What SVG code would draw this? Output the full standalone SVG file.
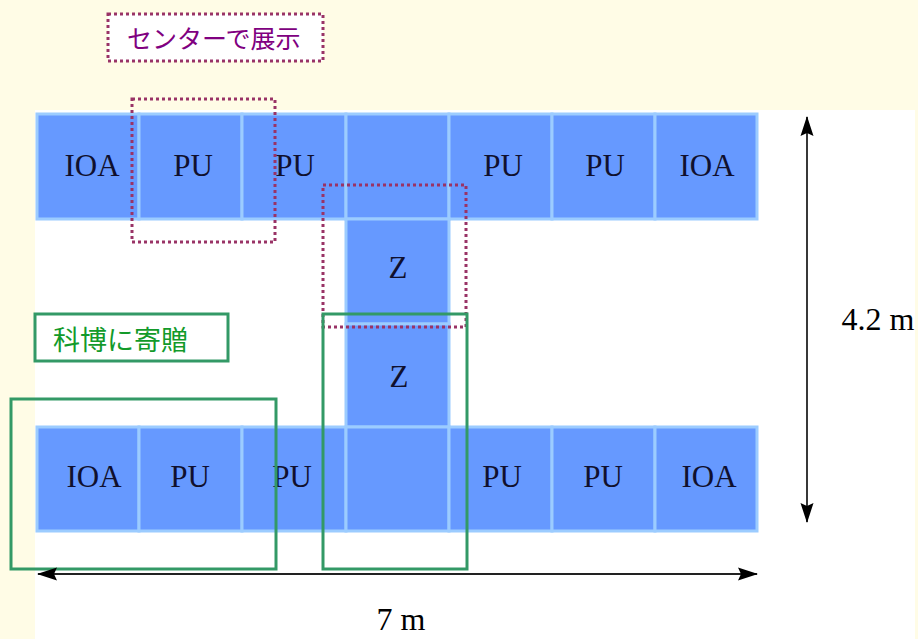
<svg xmlns="http://www.w3.org/2000/svg" width="918" height="639" viewBox="0 0 918 639">
<defs>
<style>
.cell{fill:#6699FF;stroke:#9CCCFF;stroke-width:3}
.ct{font-family:"Liberation Serif","Times New Roman",serif;font-size:31px;fill:#10102E;text-anchor:middle}
.lbl{font-family:"Liberation Serif","Times New Roman",serif;font-size:32px;fill:#000;text-anchor:middle}
.dot{fill:none;stroke:#993366;stroke-width:3;stroke-dasharray:3 3}
.grn{fill:none;stroke:#339966;stroke-width:3}
.dim{stroke:#222;stroke-width:1.8;fill:none}
</style>
<marker id="ah" viewBox="0 0 20 14" refX="19" refY="7" markerWidth="20" markerHeight="14" markerUnits="userSpaceOnUse" orient="auto-start-reverse">
<path d="M0,0.5 L20,7 L0,13.5 L3,7 Z" fill="#000"/>
</marker>
</defs>
<rect x="0" y="0" width="918" height="639" fill="#FFFCE6"/>
<rect x="35" y="110" width="880" height="529" fill="#FFFFFF"/>

<g id="top-row">
<g id="t1"><rect class="cell" x="37" y="114" width="102" height="105"/><text class="ct" x="92" y="176">IOA</text></g>
<g id="t2"><rect class="cell" x="139" y="114" width="103" height="105"/><text class="ct" x="193" y="176">PU</text></g>
<g id="t3"><rect class="cell" x="242" y="114" width="104" height="105"/><text class="ct" x="295" y="176">PU</text></g>
<g id="t4"><rect class="cell" x="346" y="114" width="103" height="105"/></g>
<g id="t5"><rect class="cell" x="449" y="114" width="103" height="105"/><text class="ct" x="503" y="176">PU</text></g>
<g id="t6"><rect class="cell" x="552" y="114" width="103" height="105"/><text class="ct" x="605" y="176">PU</text></g>
<g id="t7"><rect class="cell" x="655" y="114" width="102" height="105"/><text class="ct" x="707" y="176">IOA</text></g>
</g>
<g id="z1"><rect class="cell" x="346" y="219" width="103" height="105"/><text class="ct" x="398" y="278">Z</text></g>
<g id="z2"><rect class="cell" x="346" y="324" width="103" height="103"/><text class="ct" x="399" y="387">Z</text></g>
<g id="bottom-row">
<g id="b1"><rect class="cell" x="37" y="427" width="102" height="104"/><text class="ct" x="94" y="487">IOA</text></g>
<g id="b2"><rect class="cell" x="139" y="427" width="103" height="104"/><text class="ct" x="190" y="487">PU</text></g>
<g id="b3"><rect class="cell" x="242" y="427" width="104" height="104"/><text class="ct" x="292" y="487">PU</text></g>
<g id="b4"><rect class="cell" x="346" y="427" width="103" height="104"/></g>
<g id="b5"><rect class="cell" x="449" y="427" width="103" height="104"/><text class="ct" x="502" y="487">PU</text></g>
<g id="b6"><rect class="cell" x="552" y="427" width="103" height="104"/><text class="ct" x="603" y="487">PU</text></g>
<g id="b7"><rect class="cell" x="655" y="427" width="102" height="104"/><text class="ct" x="709" y="487">IOA</text></g>
</g>

<g id="center-label">
<rect class="dot" x="108" y="14" width="215" height="47" style="fill:#FFFFFF"/>
<text x="127" y="48" font-family="'Noto Sans CJK JP',sans-serif" font-size="25" fill="#800080">センターで展示</text>
</g>
<g id="center-box-1"><rect class="dot" x="132" y="99" width="143" height="143"/></g>
<g id="center-box-2"><rect class="dot" x="323" y="185" width="143" height="142"/></g>

<g id="museum-label">
<rect class="grn" x="35" y="314" width="193" height="47" style="fill:#FFFFFF"/>
<text x="53" y="350" font-family="'Noto Sans CJK JP',sans-serif" font-size="27" fill="#129A2A">科博に寄贈</text>
</g>
<g id="museum-box-1"><rect class="grn" x="11" y="399" width="265" height="170"/></g>
<g id="museum-box-2"><rect class="grn" x="323" y="314" width="144" height="255"/></g>

<g id="connectors">
<line class="dim" x1="38" y1="574" x2="757" y2="574" marker-start="url(#ah)" marker-end="url(#ah)"/>
<line class="dim" x1="807" y1="117" x2="807" y2="522" marker-start="url(#ah)" marker-end="url(#ah)"/>
</g>
<text class="lbl" x="401" y="630">7 m</text>
<text class="lbl" x="878" y="330">4.2 m</text>
</svg>
